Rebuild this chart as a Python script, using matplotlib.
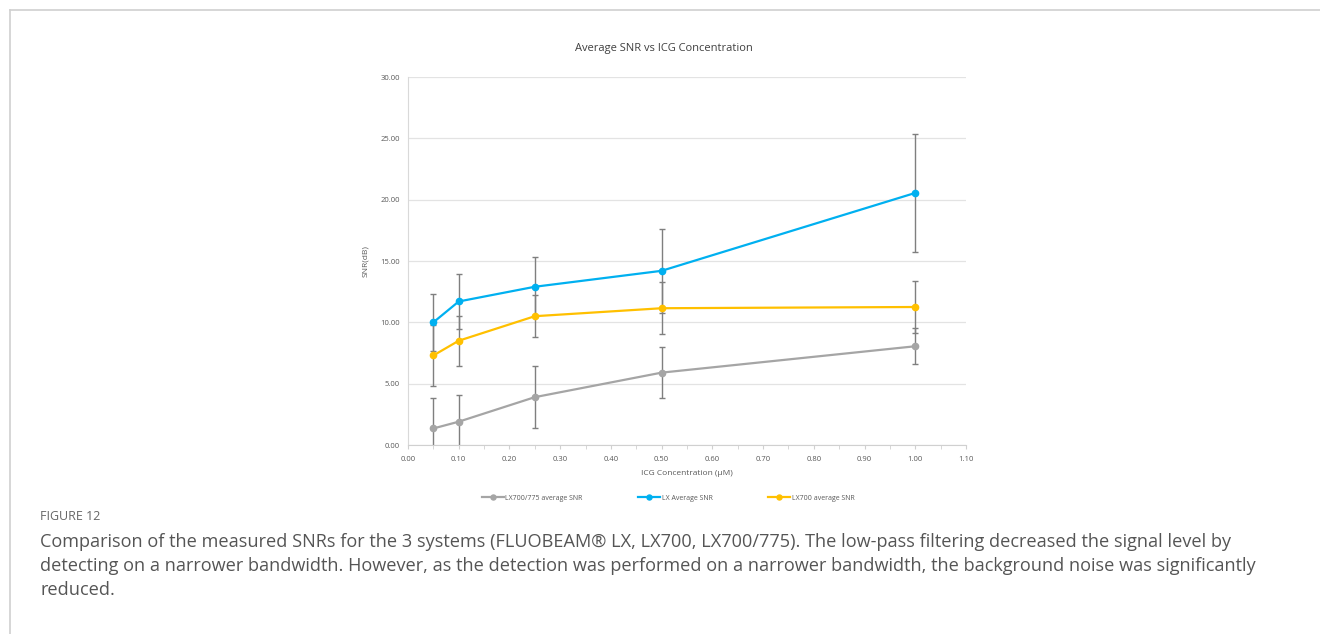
import matplotlib
matplotlib.use("Agg")
import matplotlib.pyplot as plt
import numpy as np

conc = [0.05, 0.10, 0.25, 0.50, 1.00]
lx775_snr = [1.35, 1.90, 3.90, 5.90, 8.05]
lx775_err = [2.45, 2.15, 2.55, 2.05, 1.45]
lx_snr = [10.00, 11.70, 12.90, 14.20, 20.55]
lx_err = [2.30, 2.25, 2.40, 3.40, 4.80]
lx700_snr = [7.30, 8.50, 10.50, 11.15, 11.25]
lx700_err = [2.45, 2.05, 1.70, 2.10, 2.15]

series_names = ["LX700/775 average SNR", "LX Average SNR", "LX700 average SNR"]
series_colors = ["#a5a5a5", "#00b0f0", "#ffc000"]

plt.rcParams['font.family'] = ['Open Sans', 'DejaVu Sans']

W, H = 1320, 634
fig = plt.figure(figsize=(W / 100, H / 100), dpi=100)

# card border
fig.add_artist(plt.Line2D([10 / W, 10 / W], [0, 1 - 10 / H], color="#d0d0d0", lw=1.2))
fig.add_artist(plt.Line2D([10 / W, 1], [1 - 10 / H, 1 - 10 / H], color="#d0d0d0", lw=1.2))

ax = fig.add_axes([408 / W, 1 - 445 / H, (966 - 408) / W, (445 - 77) / H])

for y, e, c, n in zip([lx775_snr, lx_snr, lx700_snr], [lx775_err, lx_err, lx700_err],
                      series_colors, series_names):
    ax.errorbar(conc, y, yerr=e, fmt='none', ecolor="#7f7f7f", elinewidth=1.0,
                capsize=2.5, capthick=1.0, zorder=2)
    ax.plot(conc, y, color=c, lw=1.6, marker='o', markersize=4.5, label=n, zorder=3)

ax.set_xlim(0, 1.10)
ax.set_ylim(0, 30)
ax.set_xticks(np.arange(0, 1.101, 0.10))
ax.set_xticks(np.arange(0, 1.101, 0.05), minor=True)
ax.set_yticks(np.arange(0, 30.1, 5))
ax.xaxis.set_major_formatter(matplotlib.ticker.FormatStrFormatter('%.2f'))
ax.yaxis.set_major_formatter(matplotlib.ticker.FormatStrFormatter('%.2f'))
ax.tick_params(axis='x', which='both', direction='out', length=3, color="#d0d0d0",
               labelsize=5.5, labelcolor="#595959", pad=5)
ax.tick_params(axis='y', which='both', length=0, labelsize=5.5, labelcolor="#595959", pad=6)
ax.grid(axis='y', color="#e3e3e3", lw=0.9, zorder=0)
ax.set_axisbelow(True)
for s in ['top', 'right']:
    ax.spines[s].set_visible(False)
ax.spines['left'].set_color("#d9d9d9")
ax.spines['bottom'].set_color("#d0d0d0")

ax.set_xlabel("ICG Concentration (µM)", fontsize=6, color="#595959", labelpad=5)
ax.set_ylabel("SNR(dB)", fontsize=6, color="#595959", labelpad=8)
fig.text(664 / W, 1 - 48 / H, "Average SNR vs ICG Concentration", fontsize=8,
         color="#404040", ha='center', va='center')

handles, labels = ax.get_legend_handles_labels()
fig.legend(handles, labels, loc='center', bbox_to_anchor=(668 / W, 1 - 498 / H), ncol=3,
           frameon=False, fontsize=5, labelcolor="#595959", handlelength=3.2,
           columnspacing=8, handletextpad=0.2, markerscale=0.8)

fig.text(40 / W, 1 - 516 / H, "FIGURE 12", fontsize=9, color="#666666", va='center')
caption = ("Comparison of the measured SNRs for the 3 systems (FLUOBEAM® LX, LX700, LX700/775). The low-pass filtering decreased the signal level by\n"
           "detecting on a narrower bandwidth. However, as the detection was performed on a narrower bandwidth, the background noise was significantly\n"
           "reduced.")
fig.text(40 / W, 1 - 533 / H, caption, fontsize=13.1, color="#555555", va='top',
         linespacing=1.43)

fig.savefig("out.png", dpi=100)
